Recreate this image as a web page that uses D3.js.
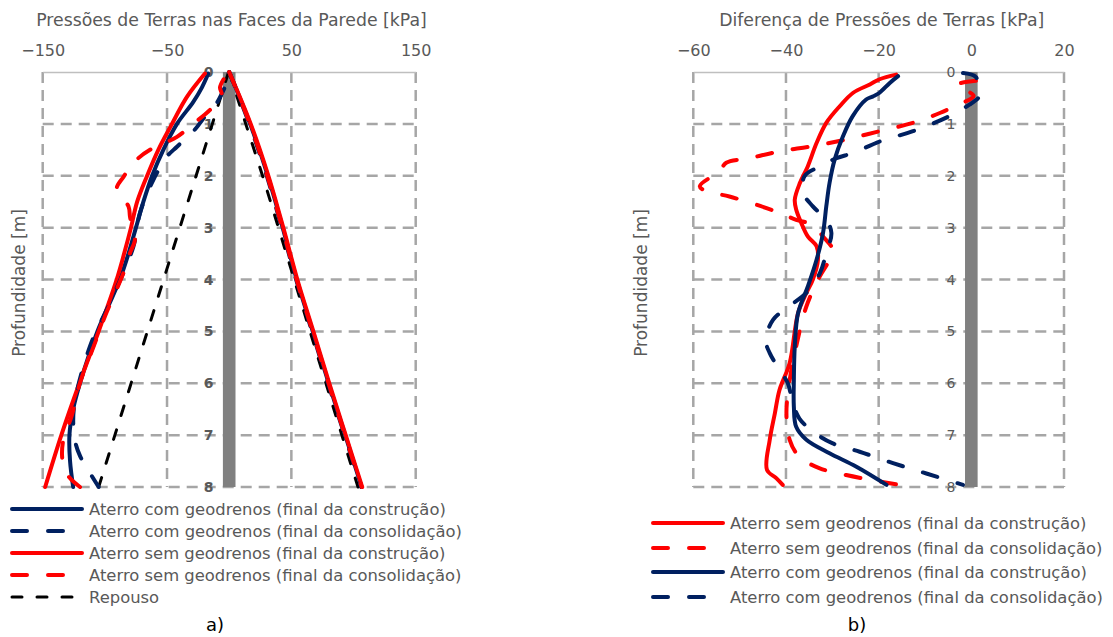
<!DOCTYPE html>
<html><head><meta charset="utf-8">
<script src="https://cdn.jsdelivr.net/npm/d3@7"></script>
<style>body{margin:0;background:#fff} svg{display:block} text{font-family:"DejaVu Sans",Verdana,sans-serif}</style>
</head><body><svg id="c" width="1113" height="637"></svg>
<script>
// ---------------- DATA ----------------
// Depth ticks (m)
const depthTicks = [0,1,2,3,4,5,6,7,8];
// Panel a) x ticks
const ticksA = [-150,-50,50,150];
// Panel b) x ticks
const ticksB = [-60,-40,-20,0,20];

// Panel a) - right face of the wall (common depths)
const faceDepth = [0,1,2,3,4,5,6,7,8];
const comConstrRight = [0,16.8,31,43,54.3,67.2,80,93.3,106.5];
const comConsolRight = [0,16.2,30.2,42.2,53.8,66.6,79.5,92.8,106];
const semConstrRight = [0,17.3,31.5,43.5,54.8,67.7,80.5,93.7,107];
const semConsolRight = [0,16.6,30.6,42.6,54.2,67,79.9,93.1,106.5];
const repousoRight = [0,13.3,26.8,39.6,52.3,65,77.8,90.6,103.6];

// Panel a) - left face of the wall
const comConstrLeftDepth = [0.03,0.3,0.58,1,1.5,2,2.5,3,3.5,4,4.5,5,6,6.5,7,7.5,8];
const comConstrLeftVal   = [-16.8,-22,-29,-42,-53,-62,-69,-75,-81,-88,-97,-106,-120,-125.5,-128.5,-128,-125.5];
const comConsolLeftDepth = [0.32,0.55,0.7,0.86,1.12,1.44,1.63,2.08,2.72,3.36,4.45,5.29,6.5,7.1,7.4,7.73,8];
const comConsolLeftVal   = [-4,-8.8,-12.8,-19.5,-28,-42,-50,-61,-71.8,-77,-95.9,-112,-125,-124,-120,-112,-105];
const semConstrLeftDepth = [0.03,0.48,1,1.5,2,2.5,3,3.5,4,5,6,7,8];
const semConstrLeftVal   = [-19.5,-34,-46,-57,-66,-74,-79,-84.5,-90.5,-105,-120.5,-135,-148];
const semConsolLeftDepth = [0.14,0.3,0.45,0.73,1,1.25,1.5,1.69,2.02,2.26,2.59,2.79,3.0,3.23,3.49,3.87,4.71,5.29,5.99,6.63,7.1,7.5,7.79,8];
const semConsolLeftVal   = [-4.5,-7.4,-6,-15.4,-29,-42,-63.7,-74.4,-85,-90.5,-81,-79.8,-78,-75.8,-79.8,-85,-99.9,-109,-120,-126.7,-133.5,-134,-129.4,-120];
const repousoLeftDepth = [0,8];
const repousoLeftVal   = [-0.5,-105];

// Panel b) - difference of earth pressures
const semConstrDiffDepth = [0.05,0.14,0.24,0.4,0.66,0.98,1.37,1.82,2.14,2.46,2.65,2.91,3.17,3.36,3.62,4.0,4.26,4.65,5.61,6.13,6.58,7.09,7.67,7.83,7.96];
const semConstrDiffVal   = [-16.2,-19.8,-21.9,-25.5,-28.4,-31.3,-33.4,-35.3,-37,-38.1,-37.8,-36.7,-35.3,-33.4,-33.1,-34.2,-35.6,-37.4,-39.2,-41.4,-42.4,-43.5,-44.1,-42.1,-40.7];
const semConsolDiffDepth = [0.17,0.25,0.46,0.63,0.79,0.98,1.14,1.3,1.43,1.53,1.66,1.75,1.91,2.2,2.3,2.4,2.69,2.85,2.94,3.17,3.43,3.62,3.94,4.52,5.29,5.94,6.58,7.09,7.42,7.64,7.77,7.87,7.96];
const semConsolDiffVal   = [1,-3.2,0.5,-2.9,-6.8,-12.6,-19.8,-27,-34.2,-41.4,-47.8,-52.9,-54.3,-58.6,-57.2,-52.2,-42.1,-37.8,-34.5,-32.0,-29.9,-30.6,-32.7,-35.6,-37.8,-39.2,-39.9,-39.2,-37.1,-32.7,-27,-21.2,-15.5];
const comConstrDiffDepth = [0.08,0.21,0.4,0.47,0.53,0.85,1.24,1.69,2.14,2.59,3.1,3.62,4.14,4.65,5.29,5.94,6.45,6.84,7.09,7.35,7.61,7.96];
const comConstrDiffVal   = [-15.8,-17.6,-19.8,-21.2,-22.7,-25.6,-27.7,-29.5,-30.6,-31.3,-32.0,-33.4,-35.3,-37.4,-38.1,-38.3,-38.3,-37.8,-35.6,-30.6,-24.8,-18.3];
const comConsolDiffDepth = [0.02,0.1,0.43,0.5,0.63,0.88,1.14,1.34,1.56,1.66,1.82,2.01,2.33,2.59,2.85,3.1,3.49,3.88,4.26,4.55,4.78,5.16,5.42,5.74,6.0,6.39,6.68,6.93,7.16,7.32,7.54,7.74,7.96];
const comConsolDiffVal   = [-1.8,1,1.8,1.5,-0.4,-5.4,-12.6,-19.8,-25.5,-29.1,-32.7,-36,-36.3,-34.2,-31.3,-30.2,-31.3,-32.7,-35.6,-39.9,-42.8,-44.4,-43.5,-41.4,-39.6,-38.5,-37.1,-34.2,-29.9,-24.1,-16.9,-9.7,-1.8];

// Legend labels
const legendA = ["Aterro com geodrenos (final da construção)","Aterro com geodrenos (final da consolidação)","Aterro sem geodrenos (final da construção)","Aterro sem geodrenos (final da consolidação)","Repouso"];
const legendB = ["Aterro sem geodrenos (final da construção)","Aterro sem geodrenos (final da consolidação)","Aterro com geodrenos (final da construção)","Aterro com geodrenos (final da consolidação)"];

// ---------------- STYLES ----------------
const RED = "#ff0000", NAVY = "#002060", TXT = "#595959", GRID = "#a6a6a6";
const stSolid = c => ({stroke:c, width:4, dash:null});
const stDash  = c => ({stroke:c, width:4, dash:"15,21"});
const stRep   = {stroke:"#000", width:3, dash:"10,15"};

const svg = d3.select("#c");
const y = d3.scaleLinear().domain([0,8]).range([72,487]);
const zip = (ds,vs) => ds.map((d,i)=>({d, v:vs[i]}));

function panel(o){
  const x = d3.scaleLinear().domain(o.domain).range(o.range);
  const g = svg.append("g");
  // vertical grid
  g.selectAll(".vg").data(o.grid).join("line")
    .attr("x1",d=>x(d)).attr("x2",d=>x(d)).attr("y1",y(0)).attr("y2",y(8))
    .attr("stroke",GRID).attr("stroke-width",2.5).attr("stroke-dasharray","11,7");
  // horizontal grid
  g.selectAll(".hg").data(depthTicks.slice(1)).join("line")
    .attr("x1",o.range[0]).attr("x2",o.range[1]).attr("y1",d=>y(d)).attr("y2",d=>y(d))
    .attr("stroke",GRID).attr("stroke-width",2.5).attr("stroke-dasharray","11,7");
  // top axis
  const ax = d3.axisTop(x).tickValues(o.ticks).tickSize(0).tickPadding(0).tickFormat(d3.format("d"));
  const axg = g.append("g").attr("transform",`translate(0,${y(0)})`).call(ax);
  axg.select(".domain").attr("stroke","#bfbfbf").attr("stroke-width",1.5);
  axg.selectAll("text").attr("y",-22).attr("dy","0.35em").attr("fill",TXT).style("font-size","16px").style("font-family","DejaVu Sans");
  // title
  g.append("text").attr("x",o.titleX).attr("y",20).attr("dy","0.35em").attr("text-anchor","middle")
    .attr("fill",TXT).style("font-size","17.3px").text(o.title);
  // y title
  g.append("text").attr("transform",`translate(${o.yTitleX},283) rotate(-90)`).attr("dy","0.35em")
    .attr("text-anchor","middle").attr("fill",TXT).style("font-size","17px").text("Profundidade [m]");
  // wall bar
  g.append("rect").attr("x",x(0)-6.3).attr("width",12.6).attr("y",y(0)).attr("height",y(8)-y(0)).attr("fill","#808080");
  // depth labels
  g.selectAll(".yl").data(depthTicks).join("text")
    .attr("x",o.yLabX).attr("y",d=>y(d)).attr("dy","0.36em").attr("text-anchor","end")
    .attr("fill",TXT).style("font-size","14px").style("font-weight",o.bold?"bold":"normal").text(d=>d);
  // series
  const line = d3.line().x(p=>x(p.v)).y(p=>y(p.d)).curve(d3.curveCatmullRom.alpha(0.5));
  o.series.forEach(s=>{
    g.append("path").attr("d",line(s.pts)).attr("fill","none")
      .attr("stroke",s.st.stroke).attr("stroke-width",s.st.width)
      .attr("stroke-linecap","round").attr("stroke-linejoin","round")
      .attr("stroke-dasharray",s.st.dash);
  });
  // legend
  o.legend.forEach((lab,i)=>{
    const st = o.legendStyles[i], ly = o.legY[i];
    g.append("line").attr("x1",o.legX).attr("x2",o.legX+o.legLen).attr("y1",ly).attr("y2",ly)
      .attr("stroke",st.stroke).attr("stroke-width",st.width).attr("stroke-linecap","round").attr("stroke-dasharray",st.dash);
    g.append("text").attr("x",o.legX+o.legLen+7).attr("y",ly).attr("dy","0.35em").attr("fill",TXT)
      .style("font-size","16.4px").text(lab);
  });
  g.append("text").attr("x",o.capX).attr("y",625).attr("dy","0.35em").attr("text-anchor","middle")
    .attr("fill","#000").style("font-size","18px").text(o.cap);
}

panel({
  domain:[-150,150], range:[42.7,415.7], ticks:ticksA, grid:ticksA,
  title:"Pressões de Terras nas Faces da Parede [kPa]", titleX:231.5, yTitleX:19,
  yLabX:213.5, bold:true,
  series:[
    {pts:zip(faceDepth,repousoRight), st:stRep},
    {pts:zip(repousoLeftDepth,repousoLeftVal), st:stRep},
    {pts:zip(faceDepth,comConstrRight), st:stSolid(NAVY)},
    {pts:zip(faceDepth,semConstrRight), st:stSolid(RED)},
    {pts:zip(faceDepth,comConsolRight), st:stDash(NAVY)},
    {pts:zip(faceDepth,semConsolRight), st:stDash(RED)},
    {pts:zip(comConstrLeftDepth,comConstrLeftVal), st:stSolid(NAVY)},
    {pts:zip(semConstrLeftDepth,semConstrLeftVal), st:stSolid(RED)},
    {pts:zip(comConsolLeftDepth,comConsolLeftVal), st:stDash(NAVY)},
    {pts:zip(semConsolLeftDepth,semConsolLeftVal), st:stDash(RED)}
  ],
  legend:legendA, legendStyles:[stSolid(NAVY),stDash(NAVY),stSolid(RED),stDash(RED),stRep],
  legX:12, legLen:70, legY:[509,531,553,575,597], cap:"a)", capX:215
});

panel({
  domain:[-60,20], range:[693.3,1064], ticks:ticksB, grid:[-60,-40,-20,20],
  title:"Diferença de Pressões de Terras [kPa]", titleX:881.7, yTitleX:641,
  yLabX:955.5, bold:false,
  series:[
    {pts:zip(semConstrDiffDepth,semConstrDiffVal), st:stSolid(RED)},
    {pts:zip(semConsolDiffDepth,semConsolDiffVal), st:stDash(RED)},
    {pts:zip(comConstrDiffDepth,comConstrDiffVal), st:stSolid(NAVY)},
    {pts:zip(comConsolDiffDepth,comConsolDiffVal), st:stDash(NAVY)}
  ],
  legend:legendB, legendStyles:[stSolid(RED),stDash(RED),stSolid(NAVY),stDash(NAVY)],
  legX:653, legLen:70, legY:[523,548,572,597], cap:"b)", capX:857
});
</script></body></html>
